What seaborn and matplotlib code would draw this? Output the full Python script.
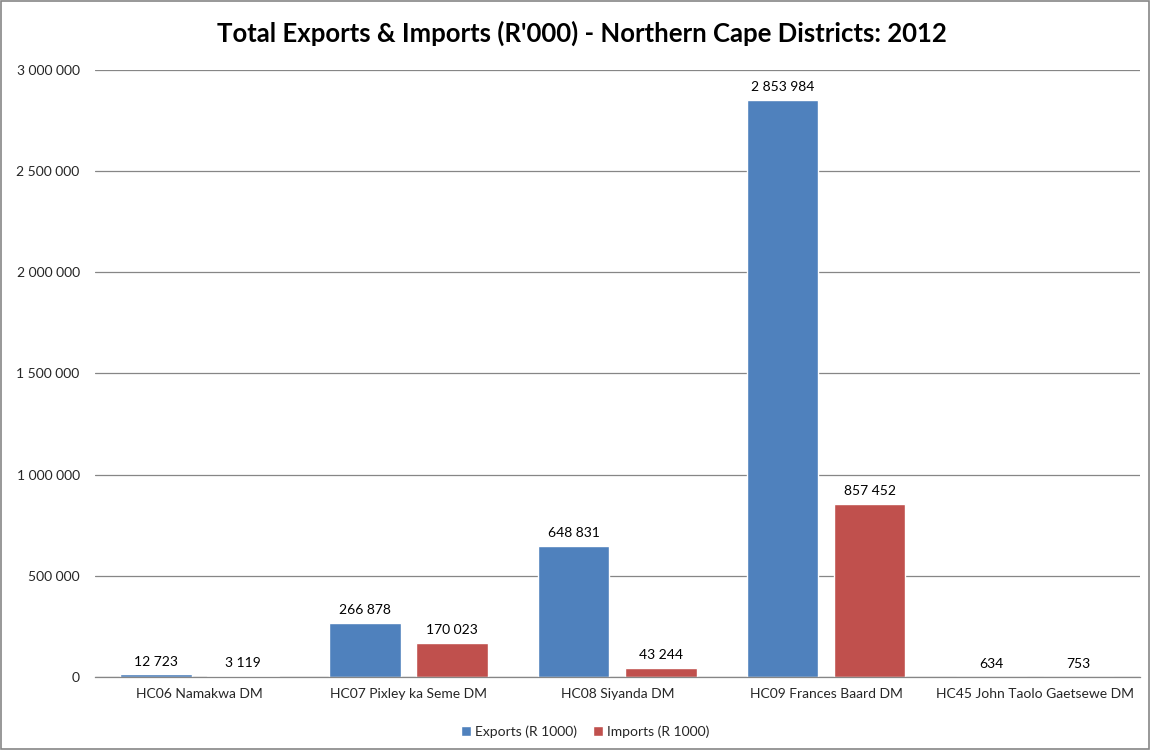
import matplotlib
matplotlib.use("Agg")
import matplotlib.pyplot as plt
import seaborn as sns
import pandas as pd
from matplotlib.patches import Rectangle

districts = ["HC06 Namakwa DM", "HC07 Pixley ka Seme DM", "HC08 Siyanda DM",
             "HC09 Frances Baard DM", "HC45 John Taolo Gaetsewe DM"]
exports = [12723, 266878, 648831, 2853984, 634]
imports = [3119, 170023, 43244, 857452, 753]
series = ["Exports (R 1000)", "Imports (R 1000)"]
yticks = [0, 500000, 1000000, 1500000, 2000000, 2500000, 3000000]

df = pd.DataFrame({
    "district": districts * 2,
    "value": exports + imports,
    "series": [series[0]] * len(districts) + [series[1]] * len(districts),
})

sns.set_theme(style="white")
plt.rcParams['font.family'] = ['Lato', 'DejaVu Sans']

fig = plt.figure(figsize=(11.5, 7.5), dpi=100)
ax = fig.add_axes([0.0826, 0.0973, 0.9084, 0.8094])

sns.barplot(data=df, x="district", y="value", hue="series", order=districts,
            hue_order=series, palette=["#4F81BD", "#C0504D"], width=0.833,
            gap=0.18, ax=ax, saturation=1, errorbar=None)

def fmt(v):
    return f"{int(v):,}".replace(",", " ")

for cont in ax.containers:
    ax.bar_label(cont, labels=[fmt(b.get_height()) for b in cont], padding=5,
                 fontsize=10, color="#000000")

ax.set_ylim(0, 3000000)
ax.set_yticks(yticks)
ax.set_yticklabels([fmt(t) for t in yticks], fontsize=10)
ax.tick_params(axis="x", labelsize=10, length=0, pad=8)
ax.tick_params(axis="y", length=0, pad=11)
ax.set_xlabel("")
ax.set_ylabel("")
ax.yaxis.grid(True, color="#868686", linewidth=0.9)
ax.set_axisbelow(True)
for s in ["top", "right", "left"]:
    ax.spines[s].set_visible(False)
ax.spines["bottom"].set_color("#868686")
ax.spines["bottom"].set_linewidth(0.9)

fig.text(0.506, 0.956, "Total Exports & Imports (R'000) - Northern Cape Districts: 2012",
         fontsize=18.5, fontweight="bold", ha="center", va="center", color="#000000")

handles, labels = ax.get_legend_handles_labels()
ax.get_legend().remove()
fig.legend(handles, labels, loc="center", bbox_to_anchor=(0.509, 0.025), ncol=2,
           frameon=False, fontsize=10, handlelength=0.7, handleheight=0.7,
           handletextpad=0.3, columnspacing=1.2)

fig.patches.append(Rectangle((0.001, 0.001), 0.998, 0.998, transform=fig.transFigure,
                             fill=False, edgecolor="#868686", linewidth=1.2))

fig.savefig("out.png", dpi=100)
